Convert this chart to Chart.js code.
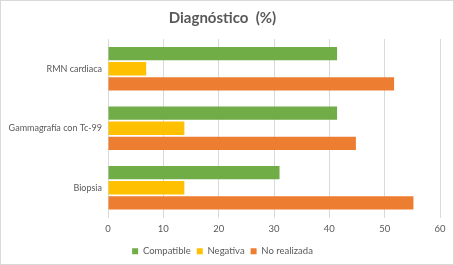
<!DOCTYPE html>
<html>
<head>
<meta charset="utf-8">
<script src="https://cdn.jsdelivr.net/npm/chart.js@4"></script>
<style>
  html, body { margin: 0; padding: 0; background: #fff; }
  #wrap { position: relative; width: 452px; height: 263px; border: 1px solid #d9d9d9; }
</style>
</head>
<body>
<div id="wrap"><canvas id="chart"></canvas></div>
<script>
const categories = ['RMN cardiaca', 'Gammagrafía con Tc-99', 'Biopsia'];

const dataCompatible = [41.4, 41.4, 31.0];
const dataNegativa = [6.9, 13.8, 13.8];
const dataNoRealizada = [51.7, 44.8, 55.2];

const xTicks = [0, 10, 20, 30, 40, 50, 60];

new Chart(document.getElementById('chart'), {
    type: 'bar',
    data: {
        labels: categories,
        datasets: [
            {
                label: 'Compatible',
                data: dataCompatible,
                backgroundColor: '#70ad47'
            },
            {
                label: 'Negativa',
                data: dataNegativa,
                backgroundColor: '#ffc000'
            },
            {
                label: 'No realizada',
                data: dataNoRealizada,
                backgroundColor: '#ed7d31'
            }
        ]
    },
    options: {
        indexAxis: 'y',
        responsive: true,
        maintainAspectRatio: false,
        animation: false,
        categoryPercentage: 0.76,
        barPercentage: 0.88,
        layout: {
            padding: { left: 4, right: 13, top: 8, bottom: -2 }
        },
        plugins: {
            title: {
                display: true,
                text: 'Diagnóstico  (%)',
                color: '#595959',
                font: { family: 'Lato', size: 15, weight: 'bold' },
                padding: { top: 0, bottom: 12 }
            },
            legend: {
                position: 'bottom',
                labels: {
                    boxWidth: 6,
                    boxHeight: 6,
                    padding: 6,
                    color: '#595959',
                    font: { family: 'Lato', size: 9.5 }
                }
            },
            tooltip: { enabled: false }
        },
        scales: {
            x: {
                min: xTicks[0],
                max: xTicks[xTicks.length - 1],
                afterBuildTicks: (axis) => {
                    axis.ticks = xTicks.map(v => ({ value: v }));
                },
                afterFit: (axis) => { axis.height = 23; },
                grid: {
                    color: '#d9d9d9',
                    drawTicks: false
                },
                border: { display: false },
                ticks: {
                    padding: 6,
                    color: '#595959',
                    font: { family: 'Lato', size: 9.5 }
                }
            },
            y: {
                afterFit: (axis) => { axis.width = 103; },
                grid: { display: false, drawTicks: false },
                border: { display: false },
                ticks: {
                    padding: 6,
                    color: '#595959',
                    font: { family: 'Lato', size: 9 }
                }
            }
        }
    }
});
</script>
</body>
</html>
